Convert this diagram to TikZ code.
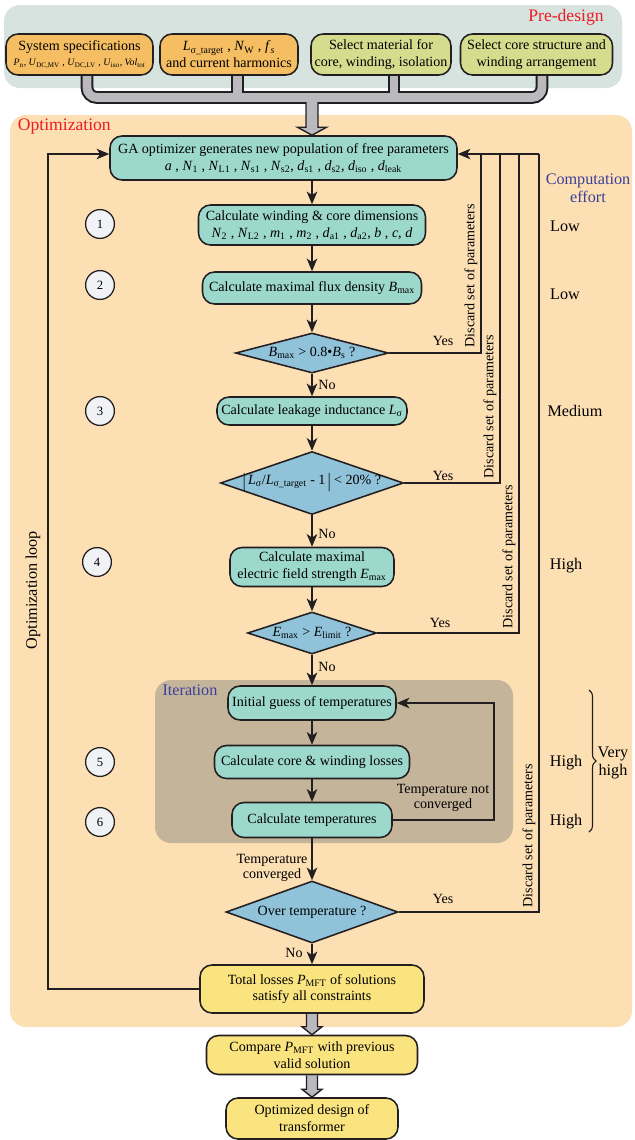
\documentclass[tikz,border=0pt]{standalone}
\usepackage{graphicx}
\usepackage{fontspec}
\setmainfont{Liberation Serif}
\usetikzlibrary{arrows.meta,calc,shapes.geometric,decorations.pathreplacing,backgrounds}
\definecolor{cpre}{HTML}{D6E3DE}
\definecolor{copt}{HTML}{FDDFB4}
\definecolor{citer}{HTML}{C4B49A}
\definecolor{corange}{HTML}{F5BE62}
\definecolor{cgreen}{HTML}{D5DC8E}
\definecolor{cteal}{HTML}{9DD8CD}
\definecolor{cdec}{HTML}{90C3DA}
\definecolor{cyel}{HTML}{F9E480}
\definecolor{cnum}{HTML}{F1F2F6}
\definecolor{cpipe}{HTML}{B9B9BE}
\definecolor{cedge}{HTML}{231F20}
\definecolor{cred}{HTML}{EC1C24}
\definecolor{cblue}{HTML}{3B3F9A}
\newcommand\vsub[2]{\textit{#1}\textsubscript{#2}}
\newcommand\zw[1]{\makebox[0pt]{#1}}
\newcommand\tbar{\raisebox{-2.5pt}{\scalebox{1}[1.45]{|}}}
\newcommand\bigarrow[5]{\filldraw[pipe] ($(#1)+(-#3,0)$) -- ($(#2)+(-#3,-#5)$) -- ($(#2)+(-#4,-#5)$) -- (#2) -- ($(#2)+(#4,-#5)$) -- ($(#2)+(#3,-#5)$) -- ($(#1)+(#3,0)$);}

\begin{document}
\begin{tikzpicture}[x=0.025cm, y=-0.025cm,
  box/.style={draw=cedge, line width=1.1pt, rounded corners=3mm, align=center, inner sep=1pt, font=\fontsize{10}{12}\selectfont},
  sz/.style 2 args={minimum width=#1*0.025cm, minimum height=#2*0.025cm},
  dec/.style={diamond, draw=cedge, line width=1.1pt, fill=cdec, inner sep=0pt, font=\fontsize{10}{12}\selectfont},
  num/.style={circle, draw=cedge, fill=cnum, line width=0.9pt, minimum size=0.72cm, inner sep=0pt, font=\fontsize{9}{10}\selectfont},
  ln/.style={draw=cedge, line width=0.9pt},
  arr/.style={ln, -{Stealth[length=9pt, width=7.5pt, inset=2.5pt]}},
  lbl/.style={font=\fontsize{10}{11}\selectfont, inner sep=1pt, align=center},
  effort/.style={font=\fontsize{11.5}{13}\selectfont, align=center},
  disc/.style={rotate=90, anchor=south west, inner sep=1pt, font=\fontsize{10}{12}\selectfont},
  pipe/.style={draw=cedge, fill=cpipe, line width=1pt},
  pipeout/.style={draw=cedge, line width=0.32cm, rounded corners=2.5mm},
  pipein/.style={draw=cpipe, line width=0.22cm, rounded corners=2.5mm}]
\useasboundingbox (0,0) rectangle (634,1140);

% pre-design
\node[text=cred, font=\fontsize{12.5}{14}\selectfont] (pd) at (566,17) {Pre-design};
\node[box, fill=corange, sz={147}{41}] (sys) at (79.5,54.5) {System specifications\\[-1pt]{\fontsize{7}{8}\selectfont \vsub{P}{n}, \vsub{U}{DC,MV} , \vsub{U}{DC,LV} , \vsub{U}{iso}, \vsub{Vol}{tot}}};
\node[box, fill=corange, sz={138}{41}] (lsig) at (229,54.5) {\vsub{L}{σ\_target} , \vsub{N}{W} , \vsub{f}{\textit{s}}\\and current harmonics};
\node[box, fill=cgreen, sz={140}{41}] (mat) at (381,54.5) {Select material for\\core, winding, isolation};
\node[box, fill=cgreen, sz={152}{41}] (core) at (536.5,54.5) {Select core structure and\\winding arrangement};
\coordinate (p1) at (87,97.5);
\coordinate (p2) at (237.5,97.5);
\coordinate (p3) at (394,97.5);
\coordinate (p4) at (542,97.5);
\coordinate (pc) at (312,97.5);

% optimization
\node[text=cred, font=\fontsize{12.5}{14}\selectfont, anchor=west] (op) at (13,127) {Optimization};
\node[box, fill=cteal, sz={347}{44}] (ga) at (283.5,158) {GA optimizer generates new population of free parameters\\\textit{a} , \vsub{N}{1} , \vsub{N}{L1} , \vsub{N}{s1} , \vsub{N}{s2}, \vsub{d}{s1} , \vsub{d}{s2}, \vsub{d}{iso} , \vsub{d}{leak}};
\coordinate (gtip) at (pc |- ga.north);
\node[box, fill=cteal, sz={227}{40}] (s1) at (312,225) {Calculate winding \& core dimensions\\\vsub{N}{2} , \vsub{N}{L2} , \vsub{m}{1} , \vsub{m}{2} , \vsub{d}{a1} , \vsub{d}{a2}, \textit{b} , \textit{c}, \textit{d}};
\node[box, fill=cteal, sz={219}{32}] (s2) at (312,288) {Calculate maximal flux density \vsub{B}{max}};
\node[dec, sz={153}{40}] (d1) at (312,353) {\zw{\vsub{B}{max} > 0.8•\vsub{B}{s} ?}};
\node[box, fill=cteal, sz={190}{28}] (s3) at (312,411) {Calculate leakage inductance \vsub{L}{σ}};
\node[dec, sz={183}{63}] (d2) at (312,483) {\zw{\tbar\,\vsub{L}{σ}/\vsub{L}{σ\_target} - 1\,\tbar\ < 20\% ?}};
\node[box, fill=cteal, sz={164}{39}] (s4) at (312,567) {Calculate maximal\\electric field strength \vsub{E}{max}};
\node[dec, sz={129}{42}] (d3) at (312,633) {\zw{\vsub{E}{max} > \vsub{E}{limit} ?}};
\node[text=cblue, font=\fontsize{11.5}{13}\selectfont] (itl) at (190,690) {Iteration};
\node[box, fill=cteal, sz={168}{34}] (it1) at (312,703) {Initial guess of temperatures};
\node[box, fill=cteal, sz={195}{33}] (it2) at (312,762) {Calculate core \& winding losses};
\node[box, fill=cteal, sz={160}{35}] (it3) at (312,820) {Calculate temperatures};
\node[dec, sz={172}{62}] (d4) at (312,912) {\zw{Over temperature ?}};
\node[box, fill=cyel, sz={224}{48}] (tot) at (312,989) {Total losses \vsub{P}{MFT} of solutions\\satisfy all constraints};
\node[box, fill=cyel, sz={211}{39}] (cmp) at (312,1055) {Compare \vsub{P}{MFT} with previous\\valid solution};
\node[box, fill=cyel, sz={172}{41}] (opt) at (312,1118.5) {Optimized design of\\transformer};

\node[num] (k1) at (100,224) {1};
\node[num] (k2) at (100,285) {2};
\node[num] (k3) at (100,411) {3};
\node[num] (k4) at (97,562) {4};
\node[num] (k5) at (100,762) {5};
\node[num] (k6) at (100,822) {6};

\node[effort, text=cblue] (ce) at (588,188) {Computation\\effort};
\node[effort] (e1) at (565,226) {Low};
\node[effort] (e2) at (565,294) {Low};
\node[effort] (e3) at (575,411) {Medium};
\node[effort] (e4) at (566,566) {High};
\node[effort] (e5) at (566,763) {High};
\node[effort] (e6) at (566,822) {High};
\node[effort] (vh) at (613,763) {Very\\high};
\coordinate (b1) at (589,690);
\coordinate (b2) at (589,832);
\draw[decorate, decoration={brace, amplitude=5pt}, line width=0.8pt, cedge] (b1) -- (b2);

\node[lbl] (y1) at (443,341) {Yes};
\node[lbl] (y2) at (443,476) {Yes};
\node[lbl] (y3) at (440,623) {Yes};
\node[lbl] (y4) at (443,899) {Yes};
\node[lbl] (n1) at (327,385) {No};
\node[lbl] (n2) at (327,534) {No};
\node[lbl] (n3) at (327,667) {No};
\node[lbl] (n4) at (294,953) {No};
\node[lbl] (tnc) at (443,798) {Temperature not\\converged};
\node[lbl] (tc) at (272,868) {Temperature\\converged};

\node[disc] (dl1) at (479,349) {Discard set of parameters};
\node[disc] (dl2) at (498,480) {Discard set of parameters};
\node[disc] (dl3) at (517,630) {Discard set of parameters};
\node[disc] (dl4) at (537,909) {Discard set of parameters};
\node[rotate=90, font=\fontsize{11.5}{13}\selectfont] (ol) at (33,590) {Optimization loop};

\coordinate (c1) at (481,154);
\coordinate (c2) at (500,154);
\coordinate (c3) at (519,154);
\coordinate (c4) at (539,154);
\coordinate (lp) at (48,154);
\coordinate (il) at (494,703);

\draw[arr] (ga.south -| s1) -- (s1);
\draw[arr] (s1) -- (s2);
\draw[arr] (s2) -- (d1);
\draw[arr] (d1) -- (s3);
\draw[arr] (s3) -- (d2);
\draw[arr] (d2) -- (s4);
\draw[arr] (s4) -- (d3);
\draw[arr] (d3) -- (it1);
\draw[arr] (it1) -- (it2);
\draw[arr] (it2) -- (it3);
\draw[arr] (it3) -- (d4);
\draw[arr] (d4) -- (tot);
\draw[ln] (d1.east) -| (c1);
\draw[ln] (d2.east) -| (c2);
\draw[ln] (d3.east) -| (c3);
\draw[ln] (d4.east) -| (c4);
\draw[arr] (c4) -- (ga.east |- c4);
\draw[arr] (tot.west) -| (lp) -- (lp -| ga.west);
\draw[arr] (it3.east) -| (il) -- (it1.east);

\begin{scope}[on background layer]
\fill[cpre, rounded corners=4mm] (4,5) rectangle (622,88);
\fill[copt, rounded corners=4mm] (10,115) rectangle (632,1027);
\fill[citer, rounded corners=4mm] (155,680) rectangle (513,843);
\draw[pipeout] (p1 |- sys.south) -- (p1) -- (p4) -- (p4 |- core.south);
\draw[pipeout] (p2 |- lsig.south) -- (p2);
\draw[pipeout] (p3 |- mat.south) -- (p3);
\bigarrow{pc}{gtip}{6}{14.5}{8}
\draw[pipein] (p1 |- sys.south) -- (p1) -- (p4) -- (p4 |- core.south);
\draw[pipein] (p2 |- lsig.south) -- (p2);
\draw[pipein] (p3 |- mat.south) -- (p3);
\bigarrow{tot.south}{cmp.north}{5.5}{10}{8}
\bigarrow{cmp.south}{opt.north}{5.5}{10}{8}
\end{scope}
\end{tikzpicture}
\end{document}
